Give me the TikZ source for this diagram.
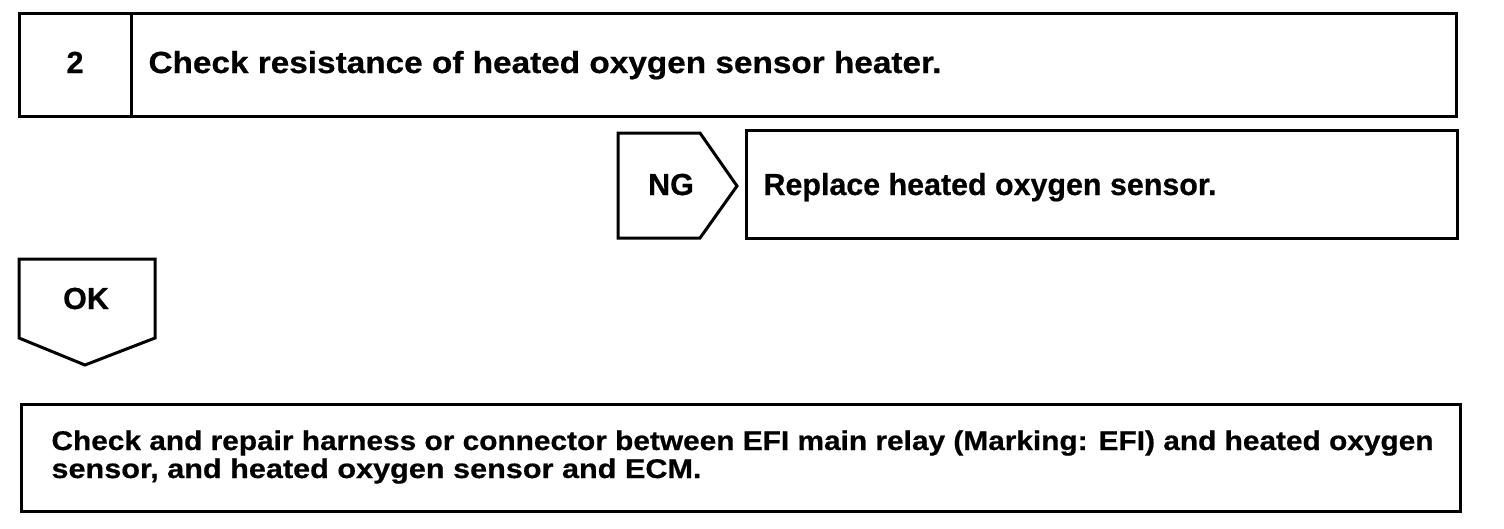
\documentclass[tikz,border=0pt]{standalone}
\usepackage{fontspec}
\setmainfont{Liberation Sans}
\newfontfamily\heavy[FakeBold=0.6]{Liberation Sans Bold}
\usepackage{graphicx}
\begin{document}
\begin{tikzpicture}[x=1pt,y=-1pt, line width=3pt, line join=miter,
  lbl/.style={inner sep=0pt, anchor=base west, font=\heavy\fontsize{30.5}{32}\selectfont},
  lbs/.style={inner sep=0pt, anchor=base west, font=\heavy\fontsize{27}{28}\selectfont}]
\useasboundingbox (0,0) rectangle (1504,528);
% top step box
\draw (19,13) rectangle (1456,116);
\draw (131,13) -- (131,116);
\node[lbl, anchor=base] (n2) at (75,73) {2};
\node[lbl] (t1) at (147,73) {\resizebox{793pt}{\height}{Check resistance of heated oxygen sensor heater.}};
% NG pentagon
\draw (618,133) -- (700,133) -- (737,186) -- (700,238) -- (618,238) -- cycle;
\node[lbl, anchor=base] (ng) at (671,195) {NG};
% replace box
\draw (746,130) rectangle (1457,238);
\node[lbl] (t2) at (762,195) {\resizebox{453pt}{\height}{Replace heated oxygen sensor.}};
% OK shape
\draw (19,259) -- (155,259) -- (155,338) -- (85,365) -- (19,338) -- cycle;
\node[lbl, anchor=base] (ok) at (86,309) {OK};
% bottom box
\draw (21,404) rectangle (1460,511);
\node[lbs] (t3a) at (50,450) {\resizebox{1382pt}{\height}{Check and repair harness or connector between EFI main relay (Marking: EFI) and heated oxygen}};
\node[lbs] (t3b) at (50,478) {\resizebox{650pt}{\height}{sensor, and heated oxygen sensor and ECM.}};
\end{tikzpicture}
\end{document}
